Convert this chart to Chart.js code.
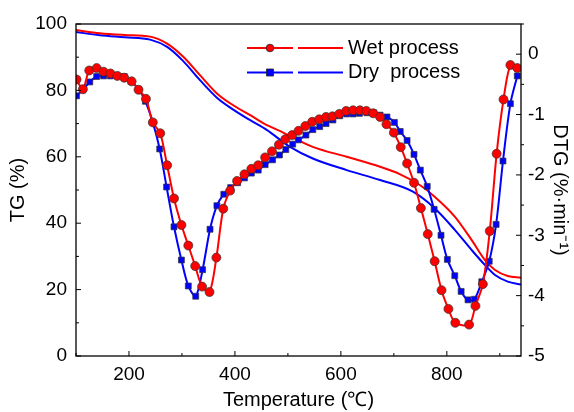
<!DOCTYPE html>
<html>
<head>
<meta charset="utf-8">
<script src="https://cdn.jsdelivr.net/npm/chart.js@4/dist/chart.umd.min.js"></script>
<style>
html,body{margin:0;padding:0;background:#fff;}
canvas{display:block;}
</style>
</head>
<body>
<canvas id="c" width="574" height="412"></canvas>
<script>
// ---- data ----
const xTicks = [200, 400, 600, 800];
const tgTicks = [0, 20, 40, 60, 80, 100];
const dtgTicks = [0, -1, -2, -3, -4, -5];

const wetDtgT = [101,113,125,139,152,165,178,191,205,218,232,245,259,272,285,299,312,325,338,352,365,378,391,404,418,431,444,457,470,483,495,508,520,533,546,559,572,584,597,610,623,636,648,661,674,686,700,713,725,738,751,764,777,790,803,816,842,854,868,881,894,907,920,933];
const wetDtg = [-0.42,-0.58,-0.27,-0.23,-0.29,-0.32,-0.36,-0.39,-0.45,-0.59,-0.74,-1.13,-1.31,-1.84,-2.39,-2.83,-3.17,-3.51,-3.85,-3.94,-3.37,-2.56,-2.26,-2.10,-1.99,-1.90,-1.84,-1.71,-1.61,-1.50,-1.41,-1.34,-1.27,-1.19,-1.12,-1.08,-1.04,-1.03,-0.99,-0.94,-0.93,-0.93,-0.94,-0.98,-1.04,-1.16,-1.30,-1.54,-1.81,-2.13,-2.55,-2.98,-3.43,-3.91,-4.22,-4.45,-4.48,-4.17,-3.81,-2.93,-1.65,-0.75,-0.18,-0.23];

const dryDtgT = [101,113,126,139,152,165,178,191,204,218,231,245,258,271,285,299,312,326,339,353,366,379,392,405,418,431,444,457,471,484,496,509,520,534,547,560,572,585,598,611,623,635,649,662,674,687,701,712,725,738,750,763,776,789,801,815,827,840,852,866,880,893,906,920,933];
const dryDtg = [-0.69,-0.59,-0.46,-0.37,-0.36,-0.36,-0.36,-0.37,-0.45,-0.58,-0.78,-1.13,-1.57,-2.20,-2.86,-3.41,-3.84,-4.01,-3.57,-2.90,-2.51,-2.32,-2.21,-2.13,-2.05,-1.97,-1.92,-1.83,-1.75,-1.67,-1.58,-1.49,-1.42,-1.34,-1.25,-1.20,-1.15,-1.09,-1.02,-0.99,-0.99,-0.98,-0.97,-0.97,-1.01,-1.04,-1.13,-1.28,-1.43,-1.66,-1.92,-2.19,-2.57,-3.00,-3.40,-3.67,-3.93,-4.07,-4.06,-3.77,-3.43,-2.82,-1.77,-0.82,-0.36];

const wetTgT = [100,145,192,240,272,302,334,366,396,428,455,491,547,611,674,711,749,777,815,847,872,891,915,940];
const wetTg = [98.2,97.2,96.7,96.2,94.1,90.2,84.6,79.1,75.6,72.6,70.0,67.3,63.0,60.0,57.0,54.8,51.5,48.0,42.0,34.9,28.9,25.9,24.1,23.6];

const dryTgT = [100,145,192,240,272,302,334,366,396,428,460,504,547,611,674,736,777,815,847,872,891,915,940];
const dryTg = [97.6,96.6,96.0,95.3,93.1,88.9,83.1,77.8,74.3,71.1,68.1,63.0,59.5,56.0,53.0,49.5,44.5,38.0,31.9,27.4,24.4,22.4,21.5];

const seriesNames = ['Wet process', 'Dry  process'];
const RED = '#ff0000', BLUE = '#0000ff';

const pts = (xs, ys) => xs.map((x, i) => ({x: x, y: ys[i]}));
const FONT = 'Liberation Sans, Arial, sans-serif';

const frameTicks = {
  id: 'frameTicks',
  afterDatasetsDraw(chart) {
    const ctx = chart.ctx, a = chart.chartArea;
    const sx = chart.scales.x, sy = chart.scales.y, sy2 = chart.scales.y2;
    ctx.save();
    ctx.strokeStyle = '#000';
    ctx.lineWidth = 1.3;
    ctx.strokeRect(a.left, a.top, a.right - a.left, a.bottom - a.top);
    ctx.lineWidth = 1;
    ctx.beginPath();
    for (let v = 100; v <= 940; v += 100) {
      const p = sx.getPixelForValue(v);
      const len = (v % 200 === 0) ? 5 : 3;
      ctx.moveTo(p, a.bottom); ctx.lineTo(p, a.bottom - len);
    }
    for (let v = 0; v <= 100; v += 10) {
      const p = sy.getPixelForValue(v);
      const len = (v % 20 === 0) ? 5 : 3;
      ctx.moveTo(a.left, p); ctx.lineTo(a.left + len, p);
    }
    for (let v = -5; v <= 0.5; v += 0.5) {
      const p = sy2.getPixelForValue(v);
      if (Number.isInteger(v)) { ctx.moveTo(a.right, p); ctx.lineTo(a.right - 5, p); }
      else { ctx.moveTo(a.right, p); ctx.lineTo(a.right + 3, p); }
    }
    ctx.stroke();

    // legend
    const cols = [RED, BLUE];
    const shapes = ['circle', 'rect'];
    for (let i = 0; i < 2; i++) {
      const y = a.top + 24 + i * 24.5;
      const x0 = a.left + 171;
      ctx.strokeStyle = cols[i];
      ctx.lineWidth = 2;
      ctx.beginPath();
      ctx.moveTo(x0, y); ctx.lineTo(x0 + 46, y);
      ctx.moveTo(x0 + 51, y); ctx.lineTo(x0 + 96, y);
      ctx.stroke();
      ctx.fillStyle = cols[i];
      ctx.strokeStyle = '#222';
      ctx.lineWidth = 0.8;
      ctx.beginPath();
      if (shapes[i] === 'circle') ctx.arc(x0 + 23, y, 3.8, 0, Math.PI * 2);
      else ctx.rect(x0 + 23 - 3.5, y - 3.5, 7, 7);
      ctx.fill(); ctx.stroke();
      ctx.fillStyle = '#000';
      ctx.font = '20px ' + FONT;
      ctx.textBaseline = 'middle';
      ctx.textAlign = 'left';
      ctx.fillText(seriesNames[i], x0 + 101, y);
    }
    ctx.restore();
  }
};

const tickFont = {family: FONT, size: 19};
const titleFont = {family: FONT, size: 20};

new Chart(document.getElementById('c'), {
  type: 'line',
  data: {
    datasets: [
      {label: seriesNames[0] + ' DTG', data: pts(wetDtgT, wetDtg), yAxisID: 'y2', borderColor: RED, backgroundColor: RED,
       borderWidth: 2, tension: 0.3, pointStyle: 'circle', pointRadius: 4.5, pointBorderColor: '#333', pointBorderWidth: 0.7, order: 0},
      {label: seriesNames[1] + ' DTG', data: pts(dryDtgT, dryDtg), yAxisID: 'y2', borderColor: BLUE, backgroundColor: BLUE,
       borderWidth: 2, tension: 0.3, pointStyle: 'rect', pointRadius: 4.2, pointBorderColor: '#333', pointBorderWidth: 0.7, order: 1},
      {label: seriesNames[0] + ' TG', data: pts(wetTgT, wetTg), yAxisID: 'y', borderColor: RED,
       borderWidth: 2, cubicInterpolationMode: 'monotone', pointRadius: 0, order: 2},
      {label: seriesNames[1] + ' TG', data: pts(dryTgT, dryTg), yAxisID: 'y', borderColor: BLUE,
       borderWidth: 2, cubicInterpolationMode: 'monotone', pointRadius: 0, order: 3}
    ]
  },
  options: {
    responsive: false,
    animation: false,
    devicePixelRatio: 1,
    layout: {padding: {top: 24, left: 0, right: 0, bottom: 0}},
    plugins: {legend: {display: false}, tooltip: {enabled: false}},
    scales: {
      x: {
        type: 'linear', min: 100, max: 940,
        afterBuildTicks: s => { s.ticks = xTicks.map(v => ({value: v})); },
        afterFit: s => { s.height = 56; },
        grid: {display: false, drawTicks: false}, border: {display: false},
        ticks: {color: '#000', font: tickFont, padding: 7, maxRotation: 0, callback: v => String(v)},
        title: {display: true, text: 'Temperature (℃)', color: '#000', font: titleFont, padding: {top: 0, bottom: 0}}
      },
      y: {
        position: 'left', min: 0, max: 100,
        afterBuildTicks: s => { s.ticks = tgTicks.map(v => ({value: v})); },
        afterFit: s => { s.width = 76; },
        grid: {display: false, drawTicks: false}, border: {display: false},
        ticks: {color: '#000', font: tickFont, padding: 9, callback: v => String(v)},
        title: {display: true, text: 'TG (%)', color: '#000', font: titleFont, padding: {top: 6, bottom: 0}}
      },
      y2: {
        position: 'right', min: -5, max: 0.5,
        afterBuildTicks: s => { s.ticks = dtgTicks.map(v => ({value: v})); },
        afterFit: s => { s.width = 53; },
        grid: {display: false, drawTicks: false}, border: {display: false},
        ticks: {color: '#000', font: tickFont, padding: 7, callback: v => String(v)},
        title: {display: true, text: 'DTG (%·min⁻¹)', color: '#000', font: titleFont, padding: {top: 2, bottom: 0}}
      }
    }
  },
  plugins: [frameTicks]
});
</script>
</body>
</html>
